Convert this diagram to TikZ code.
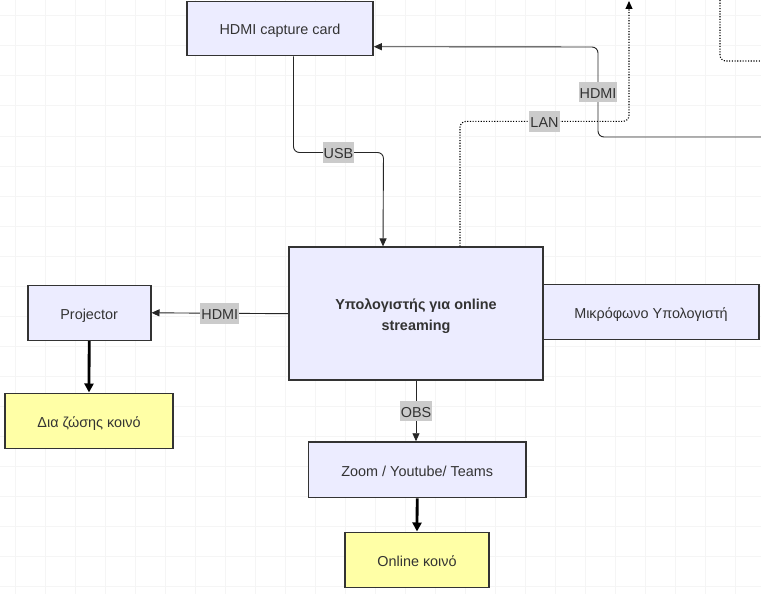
\documentclass[tikz,border=0pt]{standalone}
\usepackage{fontspec}
\setmainfont{Liberation Sans}
\usetikzlibrary{positioning,calc,arrows.meta}

\definecolor{boxfill}{HTML}{ECECFF}
\definecolor{audfill}{HTML}{FFFFA6}
\definecolor{boxline}{HTML}{333333}
\definecolor{txtcol}{HTML}{333333}
\definecolor{lblfill}{HTML}{CBCBCB}
\definecolor{gridcol}{HTML}{F5F5F5}

\tikzset{
  box/.style={draw=boxline, line width=1.6pt, fill=boxfill, inner sep=0pt,
    text=txtcol, font=\fontsize{14.4}{17}\selectfont, text height=13pt, text depth=0.4pt},
  audience/.style={box, fill=audfill},
  edge/.style={draw=black!85, line width=0.9pt, rounded corners=6pt},
  dotedge/.style={edge, draw=black, line width=1.1pt, dash pattern=on 1.1pt off 1.6pt},
  tip/.style={-{Triangle[length=8pt,width=7pt]}},
  thickedge/.style={draw=black, line width=2.8pt, -{Triangle[length=9pt,width=9pt]}},
  lbl/.style={fill=lblfill, text=txtcol, sharp corners, solid, inner xsep=1pt, inner ysep=0pt,
    minimum height=20.5pt, text height=13pt, text depth=0.4pt, font=\fontsize{14.4}{17}\selectfont}
}

\begin{document}
\begin{tikzpicture}[x=1pt, y=-1pt]
    % Canvas and grid
    \useasboundingbox (0,0) rectangle (761,594);
    \fill[white] (0,0) rectangle (761,594);
    \foreach \gx in {0,...,25} \draw[gridcol, line width=1pt] (15.5+30*\gx,0) -- (15.5+30*\gx,594);
    \foreach \gy in {0,...,19} \draw[gridcol, line width=1pt] (0,16+30*\gy) -- (761,16+30*\gy);

    % Boxes
    \node[box, minimum width=186pt, minimum height=54pt] (cap) at (280,28.7) {HDMI capture card};
    \node[box, minimum width=216pt, minimum height=55pt] (mic) at (651,312) {Μικρόφωνο Υπολογιστή};
    \node[box, minimum width=254pt, minimum height=133pt, align=center, text height=35pt, text depth=2.4pt,
          font=\fontsize{14.4}{21}\selectfont\bfseries] (comp) at (416,313.7)
          {Υπολογιστής για online\\streaming};
    \node[box, minimum width=123pt, minimum height=55pt] (proj) at (89.2,312.8) {Projector};
    \node[audience, minimum width=168.5pt, minimum height=55pt] (live) at (89,420.8) {Δια ζώσης κοινό};
    \node[box, minimum width=217.5pt, minimum height=55.5pt] (zoom) at (417.2,469.8) {Zoom / Youtube/ Teams};
    \node[audience, minimum width=144.5pt, minimum height=55pt] (online) at (417,559.8) {Online κοινό};

    % Loose ends at the border
    \coordinate (hdmiin) at (761,137);
    \coordinate (lanout) at (629,1);
    \coordinate (dottop) at (720,0);
    \coordinate (dotright) at (761,61);

    % Connectors
    \draw[edge, tip] ([xshift=13.5pt]cap.south) -- ++(0,96)
        -- node[lbl] {USB} ++(90,0) -- ([xshift=-33pt]comp.north);
    \draw[edge, tip] (hdmiin) -- ++(-163,0)
        -- node[lbl] {HDMI} ++(0,-90) -- ([yshift=-18pt]cap.east);
    \draw[dotedge, tip] ([xshift=44pt]comp.north) -- ++(0,-125)
        -- node[lbl] {LAN} ++(169,0) -- (lanout);
    \draw[dotedge] (dottop) |- (dotright);
    \draw[edge, tip] (comp.west) -- node[lbl] {HDMI} (proj.east);
    \draw[edge, tip] (comp.south) -- node[lbl] {OBS} (zoom.north -| comp.south);
    \draw[thickedge] (proj.south) -- (live.north);
    \draw[thickedge] (zoom.south) -- (online.north);
\end{tikzpicture}
\end{document}
